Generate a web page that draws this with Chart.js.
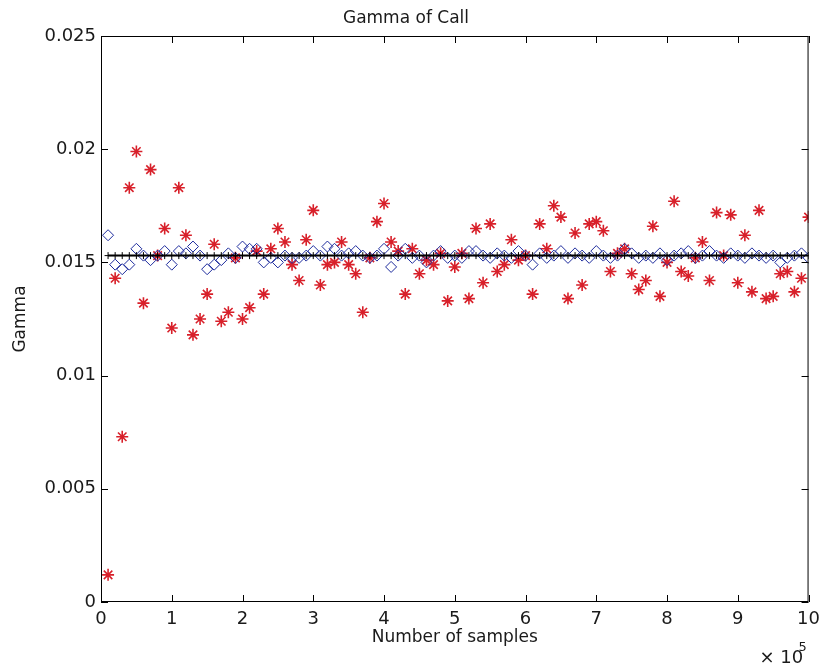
<!DOCTYPE html>
<html>
<head>
<meta charset="utf-8">
<script src="https://cdn.jsdelivr.net/npm/chart.js@4.4.1/dist/chart.umd.min.js"></script>
<style>
  html, body { margin: 0; padding: 0; background: #fff; }
  #wrap { width: 827px; height: 672px; }
</style>
</head>
<body>
<div id="wrap"><canvas id="gammaChart"></canvas></div>
<script>
  // number of samples, in units of 10^5
  const samples = [
    0.1, 0.2, 0.3, 0.4, 0.5, 0.6, 0.7, 0.8, 0.9, 1.0,
    1.1, 1.2, 1.3, 1.4, 1.5, 1.6, 1.7, 1.8, 1.9, 2.0,
    2.1, 2.2, 2.3, 2.4, 2.5, 2.6, 2.7, 2.8, 2.9, 3.0,
    3.1, 3.2, 3.3, 3.4, 3.5, 3.6, 3.7, 3.8, 3.9, 4.0,
    4.1, 4.2, 4.3, 4.4, 4.5, 4.6, 4.7, 4.8, 4.9, 5.0,
    5.1, 5.2, 5.3, 5.4, 5.5, 5.6, 5.7, 5.8, 5.9, 6.0,
    6.1, 6.2, 6.3, 6.4, 6.5, 6.6, 6.7, 6.8, 6.9, 7.0,
    7.1, 7.2, 7.3, 7.4, 7.5, 7.6, 7.7, 7.8, 7.9, 8.0,
    8.1, 8.2, 8.3, 8.4, 8.5, 8.6, 8.7, 8.8, 8.9, 9.0,
    9.1, 9.2, 9.3, 9.4, 9.5, 9.6, 9.7, 9.8, 9.9, 10.0,
  ];

  // red asterisks
  const gammaPlain = [
    0.0012, 0.0143, 0.0073, 0.0183, 0.0199, 0.0132, 0.0191, 0.0153, 0.0165, 0.0121,
    0.0183, 0.0162, 0.0118, 0.0125, 0.0136, 0.0158, 0.0124, 0.0128, 0.0152, 0.0125,
    0.0130, 0.0155, 0.0136, 0.0156, 0.0165, 0.0159, 0.0149, 0.0142, 0.0160, 0.0173,
    0.0140, 0.0149, 0.0150, 0.0159, 0.0149, 0.0145, 0.0128, 0.0152, 0.0168, 0.0176,
    0.0159, 0.0155, 0.0136, 0.0156, 0.0145, 0.0151, 0.0149, 0.0154, 0.0133, 0.0148,
    0.0154, 0.0134, 0.0165, 0.0141, 0.0167, 0.0146, 0.0149, 0.0160, 0.0151, 0.0153,
    0.0136, 0.0167, 0.0156, 0.0175, 0.0170, 0.0134, 0.0163, 0.0140, 0.0167, 0.0168,
    0.0164, 0.0146, 0.0154, 0.0156, 0.0145, 0.0138, 0.0142, 0.0166, 0.0135, 0.0150,
    0.0177, 0.0146, 0.0144, 0.0152, 0.0159, 0.0142, 0.0172, 0.0153, 0.0171, 0.0141,
    0.0162, 0.0137, 0.0173, 0.0134, 0.0135, 0.0145, 0.0146, 0.0137, 0.0143, 0.0170,
  ];

  // blue diamonds
  const gammaReduced = [
    0.0162, 0.0149, 0.0147, 0.0149, 0.0156, 0.0153, 0.0151, 0.0153, 0.0155, 0.0149,
    0.0155, 0.0154, 0.0157, 0.0153, 0.0147, 0.0149, 0.0151, 0.0154, 0.0152, 0.0157,
    0.0156, 0.0156, 0.0150, 0.0152, 0.0150, 0.0153, 0.0152, 0.0152, 0.0153, 0.0155,
    0.0153, 0.0157, 0.0156, 0.0153, 0.0154, 0.0155, 0.0153, 0.0152, 0.0153, 0.0156,
    0.0148, 0.0153, 0.0156, 0.0152, 0.0153, 0.0150, 0.0153, 0.0155, 0.0152, 0.0153,
    0.0152, 0.0155, 0.0155, 0.0153, 0.0152, 0.0154, 0.0153, 0.0152, 0.0155, 0.0153,
    0.0149, 0.0154, 0.0152, 0.0153, 0.0155, 0.0152, 0.0154, 0.0153, 0.0152, 0.0155,
    0.0153, 0.0152, 0.0153, 0.0156, 0.0154, 0.0152, 0.0153, 0.0152, 0.0154, 0.0151,
    0.0153, 0.0154, 0.0155, 0.0152, 0.0153, 0.0155, 0.0153, 0.0152, 0.0154, 0.0153,
    0.0152, 0.0154, 0.0153, 0.0152, 0.0153, 0.0150, 0.0152, 0.0153, 0.0154, 0.0152,
  ];

  // black line: exact gamma
  const gammaExact = 0.0153;

  const xTicks = [0, 1, 2, 3, 4, 5, 6, 7, 8, 9, 10];
  const yTicks = [0, 0.005, 0.01, 0.015, 0.02, 0.025];

  const FONT = 'DejaVu Sans';
  const TEXT = '#1a1a1a';

  const toPoints = (ys) => samples.map((x, i) => ({ x, y: ys[i] }));

  // MATLAB-like box with ticks pointing inward, plus the x10^5 exponent
  const matlabBoxPlugin = {
    id: 'matlabBox',
    afterDraw(chart) {
      const { ctx, chartArea } = chart;
      const { left, right, top, bottom } = chartArea;
      const xs = chart.scales.x;
      const ys = chart.scales.y;
      const len = 7;

      ctx.save();
      ctx.strokeStyle = '#000';
      ctx.lineWidth = 1;
      ctx.strokeRect(left + 0.5, top + 0.5, right - left - 1, bottom - top - 1);

      ctx.beginPath();
      xTicks.forEach((v) => {
        const px = Math.round(xs.getPixelForValue(v)) + 0.5;
        ctx.moveTo(px, bottom);
        ctx.lineTo(px, bottom - len);
        ctx.moveTo(px, top);
        ctx.lineTo(px, top + len);
      });
      yTicks.forEach((v) => {
        const py = Math.round(ys.getPixelForValue(v)) + 0.5;
        ctx.moveTo(left, py);
        ctx.lineTo(left + len, py);
        ctx.moveTo(right, py);
        ctx.lineTo(right - len, py);
      });
      ctx.stroke();

      ctx.fillStyle = TEXT;
      ctx.textBaseline = 'middle';
      ctx.textAlign = 'left';
      ctx.font = `18px "${FONT}"`;
      ctx.fillText('\u00d7 10', right - 49, bottom + 56);
      ctx.font = `13px "${FONT}"`;
      ctx.fillText('5', right - 10, bottom + 46);
      ctx.restore();
    },
  };

  new Chart(document.getElementById('gammaChart').getContext('2d'), {
    type: 'scatter',
    data: {
      datasets: [
        {
          label: 'Exact',
          data: toPoints(samples.map(() => gammaExact)),
          showLine: true,
          borderColor: '#000',
          borderWidth: 2,
          pointStyle: 'cross',
          pointRadius: 3.5,
          pointBorderColor: '#000',
          pointBorderWidth: 1,
        },
        {
          label: 'Control variate',
          data: toPoints(gammaReduced),
          pointStyle: 'rectRot',
          pointRadius: 5.5,
          pointBackgroundColor: 'rgba(0,0,0,0)',
          pointBorderColor: '#1c2a9c',
          pointBorderWidth: 1,
        },
        {
          label: 'Monte Carlo',
          data: toPoints(gammaPlain),
          pointStyle: 'star',
          pointRadius: 6,
          pointBorderColor: '#d8202a',
          pointBorderWidth: 1.6,
        },
      ],
    },
    options: {
      responsive: true,
      maintainAspectRatio: false,
      animation: false,
      events: [],
      layout: { padding: { left: 0, right: 15, top: 0, bottom: 0 } },
      plugins: {
        legend: { display: false },
        tooltip: { enabled: false },
        title: {
          display: true,
          text: 'Gamma of Call',
          color: TEXT,
          font: { family: FONT, size: 17, weight: 'normal', lineHeight: 1.2 },
          padding: { top: 8, bottom: 7.6 },
        },
      },
      scales: {
        x: {
          type: 'linear',
          min: 0,
          max: 10,
          afterFit(scale) { scale.height = 70; },
          afterBuildTicks(scale) { scale.ticks = xTicks.map((v) => ({ value: v })); },
          grid: { display: false, drawTicks: false },
          border: { display: false },
          ticks: {
            color: TEXT,
            padding: 7,
            maxRotation: 0,
            autoSkip: false,
            font: { family: FONT, size: 18 },
            callback: (v) => String(v),
          },
          title: {
            display: true,
            text: 'Number of samples',
            color: TEXT,
            font: { family: FONT, size: 17, lineHeight: 1.2 },
            padding: { top: 0, bottom: 24 },
          },
        },
        y: {
          min: 0,
          max: 0.025,
          afterFit(scale) { scale.width = 101; },
          afterBuildTicks(scale) { scale.ticks = yTicks.map((v) => ({ value: v })); },
          grid: { display: false, drawTicks: false },
          border: { display: false },
          ticks: {
            color: TEXT,
            padding: 5,
            autoSkip: false,
            font: { family: FONT, size: 18 },
            callback: (v) => (v === 0 ? '0' : String(+v.toFixed(3))),
          },
          title: {
            display: true,
            text: 'Gamma',
            color: TEXT,
            font: { family: FONT, size: 17, lineHeight: 1.2 },
            padding: { top: 10, bottom: 0 },
          },
        },
      },
    },
    plugins: [matlabBoxPlugin],
  });
</script>
</body>
</html>
